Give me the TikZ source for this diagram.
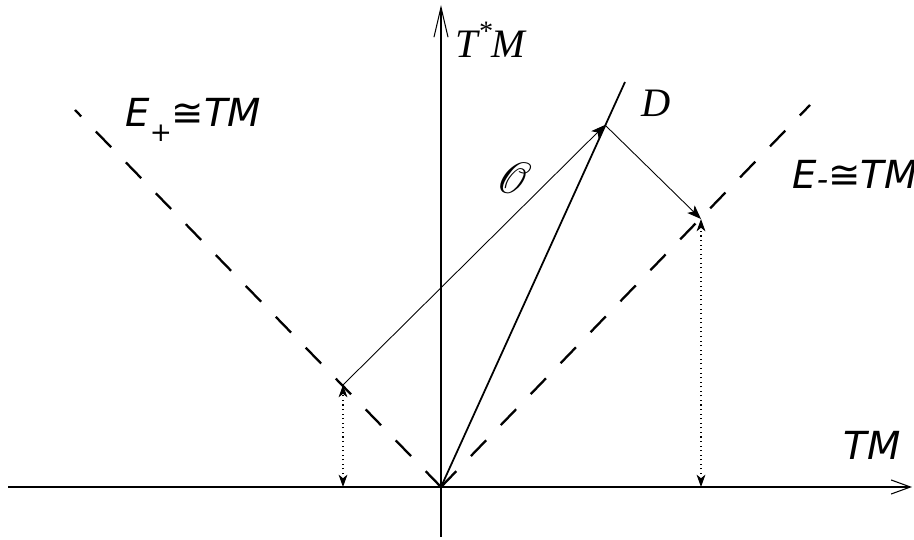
\documentclass[tikz,border=0pt]{standalone}
\usepackage{fontspec}
\usepackage{mathrsfs}
\usepackage{tikz}
\usetikzlibrary{arrows.meta}
\newfontfamily\sanslabel{DejaVu Sans}
\newfontfamily\seriflabel{Liberation Serif}

\tikzset{
  axis/.style={line width=0.6pt},
  diag/.style={line width=1.3pt, dash pattern=on 12.5pt off 12pt},
  proj/.style={line width=0.5pt, -{Stealth[length=8pt,width=6pt,inset=2pt]}},
  lift/.style={line width=0.6pt, dotted, {Stealth[length=7pt,width=5pt,inset=2pt]}-{Stealth[length=7pt,width=5pt,inset=2pt]}},
  lbl/.style={font=\seriflabel\itshape\fontsize{23}{26}\selectfont, inner sep=0pt},
  slbl/.style={font=\sanslabel\itshape\fontsize{22}{26}\selectfont, inner sep=0pt}
}

\begin{document}
\begin{tikzpicture}[x=0.02cm, y=-0.02cm]
  \useasboundingbox (0,0) rectangle (914,540);
  % points
  \coordinate (O) at (441,487);
  \coordinate (xl) at (8,487);
  \coordinate (xr) at (912,487);
  \coordinate (yb) at (441,537);
  \coordinate (yt) at (441,5);
  \coordinate (ep) at (75,110);
  \coordinate (em) at (810,105);
  \coordinate (dtop) at (625,82);
  \coordinate (P) at (605,125);
  \coordinate (R) at (343,385);
  \coordinate (Q) at (701,219);
  \coordinate (Rb) at (343,487);
  \coordinate (Qb) at (701,487);

  % axes
  \draw[axis, -{Straight Barb[length=11pt,width=8pt]}] (xl) -- (xr);
  \draw[axis, -{Straight Barb[length=17pt,width=8pt]}] (yb) -- (yt);
  % E+ and E-
  \draw[diag] (O) -- (ep);
  \draw[diag] (O) -- (em);
  % D
  \draw[line width=1pt] (O) -- (dtop);
  \draw[proj] (R) -- (P);
  \draw[proj] (P) -- (Q);
  \draw[lift] (Rb) -- (R);
  \draw[lift] (Qb) -- (Q);

  % labels
  \node[lbl, anchor=west] (lTsM) at (455,40) {T\raisebox{0.9ex}{\fontsize{16}{18}\selectfont*}M};
  \node[lbl] (lD) at (656,103) {D};
  \node[inner sep=0pt, font=\fontsize{30}{34}\selectfont] (lO) at (514,178) {$\mathscr{O}$};
  \node[slbl, anchor=west] (lEp) at (125,120) {E\raisebox{-0.7ex}{\fontsize{15}{18}\selectfont+}≅TM};
  \node[slbl, anchor=west] (lEm) at (792,175) {E\raisebox{-0.1ex}{\fontsize{18}{20}\selectfont-}≅TM};
  \node[slbl] (lTM) at (872,445) {TM};
\end{tikzpicture}
\end{document}
